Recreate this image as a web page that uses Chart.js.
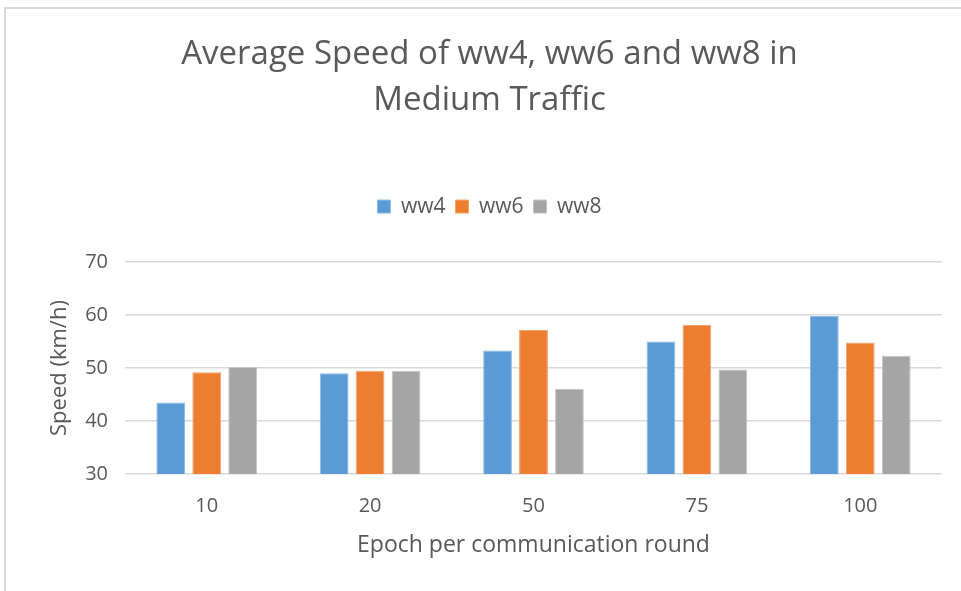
<!DOCTYPE html>
<html>
<head>
<meta charset="utf-8">
<title>Average Speed</title>
<script src="https://cdn.jsdelivr.net/npm/chart.js@4.4.0/dist/chart.umd.min.js"></script>
<style>
  html, body { margin: 0; padding: 0; background: #fff; overflow: hidden; }
  /* kader vasakul ja ülal */
  #frame { position: absolute; left: 4px; top: 7px; width: 990px; height: 620px;
           border-left: 2px solid #d9d9d9; border-top: 2px solid #d9d9d9; }
  #wrap { position: absolute; left: 0; top: 0; width: 961px; height: 591px; }
</style>
</head>
<body>
<div id="frame"></div>
<div id="wrap"><canvas id="speedChart" width="961" height="591"></canvas></div>
<script>
// Andmed
const epochs = ['10', '20', '50', '75', '100'];
const ww4 = [43.5, 49.0, 53.3, 55.0, 59.8];
const ww6 = [49.2, 49.5, 57.2, 58.1, 54.8];
const ww8 = [50.2, 49.5, 46.1, 49.7, 52.3];
const yTicks = [30, 40, 50, 60, 70];

const textColor = '#595959';
const fontFamily = '"Open Sans", "DejaVu Sans", sans-serif';

// Lisa legendi alla vaba ruumi
const legendGap = {
    id: 'legendGap',
    beforeInit(chart) {
        const origFit = chart.legend.fit;
        chart.legend.fit = function () {
            origFit.bind(chart.legend)();
            this.height += 35;
        };
    }
};

const ctx = document.getElementById('speedChart').getContext('2d');
const chart = new Chart(ctx, {
    type: 'bar',
    data: {
        labels: epochs,
        datasets: [
            { label: 'ww4', data: ww4, backgroundColor: '#5B9BD5', borderColor: '#8DB9E3', borderWidth: 1 },
            { label: 'ww6', data: ww6, backgroundColor: '#ED7D31', borderColor: '#F4A46F', borderWidth: 1 },
            { label: 'ww8', data: ww8, backgroundColor: '#A5A5A5', borderColor: '#C4C4C4', borderWidth: 1 }
        ]
    },
    options: {
        responsive: false,
        animation: false,
        devicePixelRatio: 1,
        categoryPercentage: 0.66,
        barPercentage: 0.8,
        // vasak polster nihutab pealkirja ja legendi paremale
        layout: { padding: { left: 37, right: 19, top: 0, bottom: 0 } },
        plugins: {
            title: {
                display: true,
                text: ['Average Speed of ww4, ww6 and ww8 in', 'Medium Traffic'],
                color: textColor,
                font: { family: fontFamily, size: 33, weight: 'normal', lineHeight: 1.41 },
                padding: { top: 31, bottom: 62 }
            },
            legend: {
                display: true,
                labels: {
                    color: textColor,
                    font: { family: fontFamily, size: 21 },
                    boxWidth: 13,
                    boxHeight: 13,
                    padding: 10
                }
            },
            tooltip: { enabled: false }
        },
        scales: {
            x: {
                grid: { display: false, drawTicks: false },
                border: { display: false },
                ticks: { color: textColor, font: { family: fontFamily, size: 20 }, padding: 20 },
                title: {
                    display: true,
                    text: 'Epoch per communication round',
                    color: textColor,
                    font: { family: fontFamily, size: 23 },
                    padding: { top: 0, bottom: 32 }
                },
                afterFit(scale) { scale.height = 117; }
            },
            y: {
                min: 30,
                max: 70,
                afterBuildTicks(scale) { scale.ticks = yTicks.map(v => ({ value: v })); },
                grid: { color: '#d9d9d9', lineWidth: 1.5, drawTicks: false },
                border: { display: false },
                ticks: { color: textColor, font: { family: fontFamily, size: 20 }, padding: 17 },
                title: {
                    display: true,
                    text: 'Speed (km/h)',
                    color: textColor,
                    font: { family: fontFamily, size: 22 },
                    padding: { top: 10, bottom: 0 }
                },
                afterFit(scale) { scale.width = 88; }
            }
        }
    },
    plugins: [legendGap]
});
</script>
</body>
</html>
